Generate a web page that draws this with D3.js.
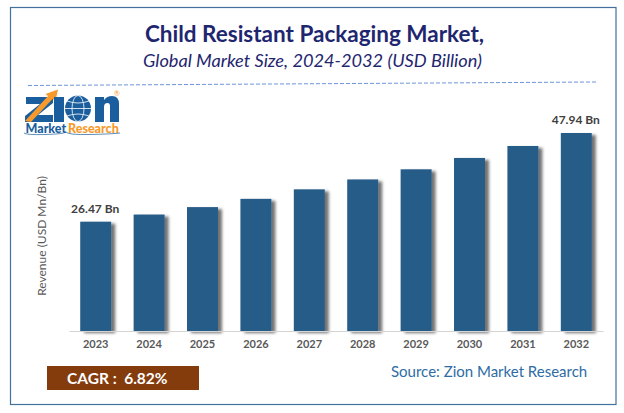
<!DOCTYPE html>
<html>
<head>
<meta charset="utf-8">
<script src="https://cdn.jsdelivr.net/npm/d3@7"></script>
<style>
    html, body { margin: 0; padding: 0; background: #fff; }
    svg { display: block; }
    text { font-family: Lato, "Open Sans", sans-serif; }
</style>
</head>
<body>
<div id="chart"></div>
<script>
// --- Chart data ---
const years = ['2023', '2024', '2025', '2026', '2027', '2028', '2029', '2030', '2031', '2032'];
const revenue = [26.47, 28.2, 30.0, 32.0, 34.3, 36.7, 39.15, 41.9, 44.8, 47.94];
const valueLabels = { '2023': '26.47 Bn', '2032': '47.94 Bn' };

const width = 624, height = 413;
const svg = d3.select('#chart').append('svg').attr('width', width).attr('height', height);

const defs = svg.append('defs');
const shadow = defs.append('filter').attr('id', 'bar-shadow')
    .attr('x', '-20%').attr('y', '-10%').attr('width', '160%').attr('height', '120%');
shadow.append('feDropShadow').attr('dx', 4).attr('dy', 2).attr('stdDeviation', 1.8)
    .attr('flood-color', '#000').attr('flood-opacity', 0.55);

// frame
svg.append('rect').attr('x', 10.5).attr('y', 7.5).attr('width', 605.5).attr('height', 397)
    .attr('fill', '#fff').attr('stroke', '#41719C').attr('stroke-width', 1.2);

// titles
svg.append('text').attr('x', 314.5).attr('y', 42).attr('text-anchor', 'middle')
    .attr('font-size', 22.5).attr('font-weight', 700).attr('fill', '#1F2670')
    .text('Child Resistant Packaging Market,');
svg.append('text').attr('x', 312.5).attr('y', 67).attr('text-anchor', 'middle')
    .attr('font-size', 18.2).attr('font-style', 'italic').attr('fill', '#1F2670')
    .text('Global Market Size, 2024-2032 (USD Billion)');

// dashed rule
svg.append('line').attr('x1', 28).attr('y1', 85.5).attr('x2', 597).attr('y2', 82)
    .attr('stroke', '#6F96D8').attr('stroke-width', 1).attr('stroke-dasharray', '4 2');

// --- Scales ---
const x = d3.scaleBand().domain(years).range([69, 603]).paddingInner(0.42).paddingOuter(0.21);
const y = d3.scaleLinear().domain([0, 50]).range([331, 124.5]);

// bars
svg.append('g').selectAll('rect').data(years).join('rect')
    .attr('x', d => x(d))
    .attr('y', (d, i) => y(revenue[i]))
    .attr('width', x.bandwidth())
    .attr('height', (d, i) => y(0) - y(revenue[i]))
    .attr('fill', '#285B88')
    .attr('filter', 'url(#bar-shadow)');

// x axis
const xAxis = svg.append('g').attr('transform', `translate(0,${y(0)})`)
    .call(d3.axisBottom(x).tickSize(0).tickPadding(9));
xAxis.select('.domain').attr('stroke', '#D4D4D4').attr('stroke-width', 1);
xAxis.selectAll('text').attr('font-family', 'Lato').attr('font-size', 11)
    .attr('font-weight', 700).attr('fill', '#595959');

// value labels on first and last bars
svg.append('g').selectAll('text').data(years.filter(d => valueLabels[d])).join('text')
    .attr('x', d => x(d) + x.bandwidth() / 2 + (d === '2023' ? -0.5 : -0.5))
    .attr('y', d => y(revenue[years.indexOf(d)]) - 9)
    .attr('text-anchor', 'middle')
    .attr('font-size', 12).attr('font-weight', 700).attr('fill', '#404040')
    .text(d => valueLabels[d]);

// y axis title
svg.append('text').attr('transform', 'translate(46,236) rotate(-90)').attr('text-anchor', 'middle')
    .attr('font-size', 12).attr('fill', '#595959')
    .text('Revenue (USD Mn/Bn)');

// CAGR box
svg.append('rect').attr('x', 47).attr('y', 366).attr('width', 152).attr('height', 24).attr('fill', '#843C0C');
svg.append('text').attr('x', 67).attr('y', 384).attr('font-size', 15.5).attr('font-weight', 700)
    .attr('fill', '#fff').attr('xml:space', 'preserve').text('CAGR :  6.82%');

// source
svg.append('text').attr('x', 391).attr('y', 377).attr('font-size', 15).attr('fill', '#2E6CA4')
    .text('Source: Zion Market Research');

// --- Logo ---
const logo = svg.append('g');
const blue = '#1B5E9E', orange = '#F79A2B';
logo.append('path').attr('fill', blue)
    .attr('d', 'M26 97H53V103L38 115H53V122H25V116L40 104H26Z');
logo.append('path').attr('fill', orange)
    .attr('d', 'M25 121L48 96L45.5 94L58 89.5L55.5 101L52.5 99L31 122Z');
logo.append('rect').attr('x', 54).attr('y', 97).attr('width', 10).attr('height', 25).attr('fill', blue);
logo.append('circle').attr('cx', 78).attr('cy', 108.5).attr('r', 13).attr('fill', blue);
const globe = logo.append('g').attr('fill', 'none').attr('stroke', '#fff').attr('stroke-width', 0.8);
globe.append('ellipse').attr('cx', 78).attr('cy', 108.5).attr('rx', 6).attr('ry', 13);
globe.append('line').attr('x1', 65).attr('y1', 108.5).attr('x2', 91).attr('y2', 108.5);
globe.append('path').attr('d', 'M67 101Q78 105 89 101M67 116Q78 112 89 116');
logo.append('path').attr('fill', blue)
    .attr('d', 'M95 122V97H104V100Q107 96 112 96Q119 96 119 104V122H110V106Q110 103 107.5 103Q104 103 104 107V122Z');
logo.append('text').attr('x', 25.5).attr('y', 133).attr('font-size', 12.5).attr('font-weight', 900)
    .attr('fill', blue).text('Market');
logo.append('text').attr('x', 68).attr('y', 133).attr('font-size', 12.5).attr('font-weight', 900)
    .attr('fill', orange).text('Research');
logo.append('path').attr('fill', 'none').attr('stroke', blue).attr('stroke-width', 0.7)
    .attr('d', 'M24 133Q26 135 45 134.5T66 132Q68 135 90 134.5T120 133');
logo.append('text').attr('x', 117).attr('y', 96).attr('text-anchor', 'middle').attr('font-size', 7)
    .attr('fill', orange).text('®');
</script>
</body>
</html>
